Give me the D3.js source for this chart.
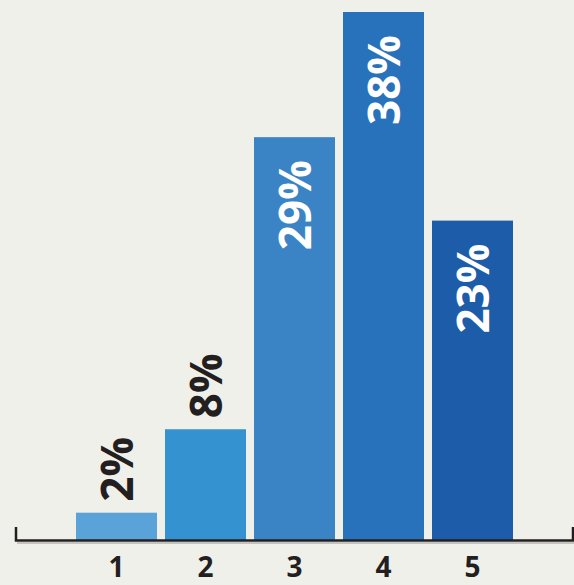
<!DOCTYPE html>
<html>
<head>
<meta charset="utf-8">
<script src="https://cdn.jsdelivr.net/npm/d3@7"></script>
<style>
  html, body { margin: 0; padding: 0; background: #f0f0eb; }
  svg { display: block; }
</style>
</head>
<body>
<svg id="chart" width="574" height="585"></svg>
<script>
const categories = ["1", "2", "3", "4", "5"];
const values = [2, 8, 29, 38, 23];
const valueLabels = ["2%", "8%", "29%", "38%", "23%"];
const barColors = ["#5aa3d9", "#3592d0", "#3a84c6", "#2872bb", "#1c5ca8"];

const svg = d3.select("#chart");
const baseY = 540.5;

const x = d3.scaleBand().domain(categories).range([76, 513]).paddingInner(0.09).paddingOuter(0);
const y = d3.scaleLinear().domain([0, 38]).range([baseY, 12]);

svg.append("rect").attr("width", 574).attr("height", 585).attr("fill", "#f0f0eb");

// bars
svg.selectAll("rect.bar").data(values).join("rect")
  .attr("class", "bar")
  .attr("x", (d, i) => x(categories[i]))
  .attr("y", d => y(d))
  .attr("width", x.bandwidth())
  .attr("height", d => baseY - y(d))
  .attr("fill", (d, i) => barColors[i]);

// value labels (rotated)
const inside = d => d >= 20;
svg.selectAll("text.val").data(values).join("text")
  .attr("class", "val")
  .attr("transform", (d, i) => {
    const cx = x(categories[i]) + x.bandwidth() / 2 + 16.5;
    const ty = inside(d) ? y(d) + 23 : y(d) - 11;
    return `translate(${cx},${ty}) rotate(-90)`;
  })
  .attr("text-anchor", d => inside(d) ? "end" : "start")
  .attr("font-family", "'Open Sans', sans-serif")
  .attr("font-weight", 700)
  .attr("font-size", 44)
  .attr("fill", d => inside(d) ? "#ffffff" : "#231f20")
  .text((d, i) => valueLabels[i]);

// axis shadow + line with end ticks
svg.append("path")
  .attr("d", `M17,${baseY + 2.5}H574`)
  .attr("stroke", "#b5b5b0").attr("stroke-width", 1.5).attr("fill", "none");
svg.append("path")
  .attr("d", `M16,527V${baseY}H573V527`)
  .attr("stroke", "#231f20").attr("stroke-width", 2.5).attr("fill", "none");

// category labels via axis
const axisG = svg.append("g")
  .attr("transform", `translate(0,${baseY})`)
  .call(d3.axisBottom(x).tickSize(0).tickPadding(0));
axisG.select(".domain").remove();
axisG.selectAll("text")
  .attr("y", 36.5)
  .attr("dy", 0)
  .attr("font-family", "'Open Sans', sans-serif")
  .attr("font-weight", 700)
  .attr("font-size", 28)
  .attr("fill", "#231f20");
</script>
</body>
</html>
